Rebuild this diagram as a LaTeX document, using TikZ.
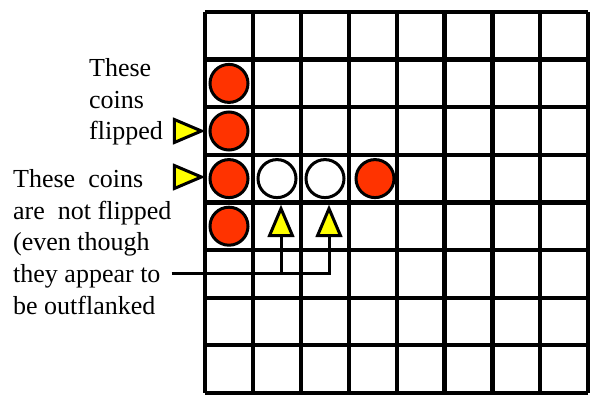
\documentclass[tikz,border=0pt]{standalone}
\usepackage{fontspec}
\setmainfont{Liberation Serif}
\usetikzlibrary{shapes.geometric, calc, positioning}
\definecolor{coinRed}{RGB}{255, 51, 0}
\definecolor{markYellow}{RGB}{255, 255, 0}

\begin{document}
\begin{tikzpicture}[
        x=1pt, y=-1pt,
        gridLine/.style={line width=4.2pt, black},
        redCoin/.style={circle, fill=coinRed, draw=black, line width=3pt, minimum size=38pt, inner sep=0pt},
        whiteCoin/.style={circle, fill=white, draw=black, line width=3pt, minimum size=38pt, inner sep=0pt},
        markTri/.style={isosceles triangle, isosceles triangle apex angle=46, fill=markYellow, draw=black, line width=3pt, minimum height=27pt, inner sep=0pt},
        noteText/.style={align=left, inner sep=0pt, font=\fontsize{26}{31.8}\selectfont},
        link/.style={line width=3pt, black}
    ]
        \useasboundingbox (0,0) rectangle (591,398);

        % Spielbrett 8x8
        \foreach \i in {0,...,8} {
            \draw[gridLine] ({205+47.9*\i},12) -- ({205+47.9*\i},393);
            \draw[gridLine] (205,{12+47.6*\i}) -- (588,{12+47.6*\i});
        }

        % Steine
        \node[redCoin] (c01) at (229,83.4) {};
        \node[redCoin] (c02) at (229,131) {};
        \node[redCoin] (c03) at (229,178.6) {};
        \node[redCoin] (c04) at (229,226.2) {};
        \node[whiteCoin] (c13) at (277,178.6) {};
        \node[whiteCoin] (c23) at (325,178.6) {};
        \node[redCoin] (c33) at (375,178.6) {};

        % Markierungen
        \node[markTri] (triA) at (182,131) {};
        \node[markTri] (triB) at (182,177) {};
        \node[markTri, shape border rotate=90] (upA) at (281,228) {};
        \node[markTri, shape border rotate=90] (upB) at (329,228) {};

        % Texte
        \node[noteText, anchor=north west] (flipped) at (89,58) {These\\coins\\flipped};
        \node[noteText, anchor=north west] (notflip) at (13,169) {These~ coins\\are~ not flipped\\(even though\\they appear to\\be outflanked};

        \coordinate (bend) at (329,273);
        \draw[link] (notflip.east |- bend) -- (bend) -- (upB.south);
        \draw[link] (upA.south) -- (upA.south |- bend);
    \end{tikzpicture}
\end{document}
